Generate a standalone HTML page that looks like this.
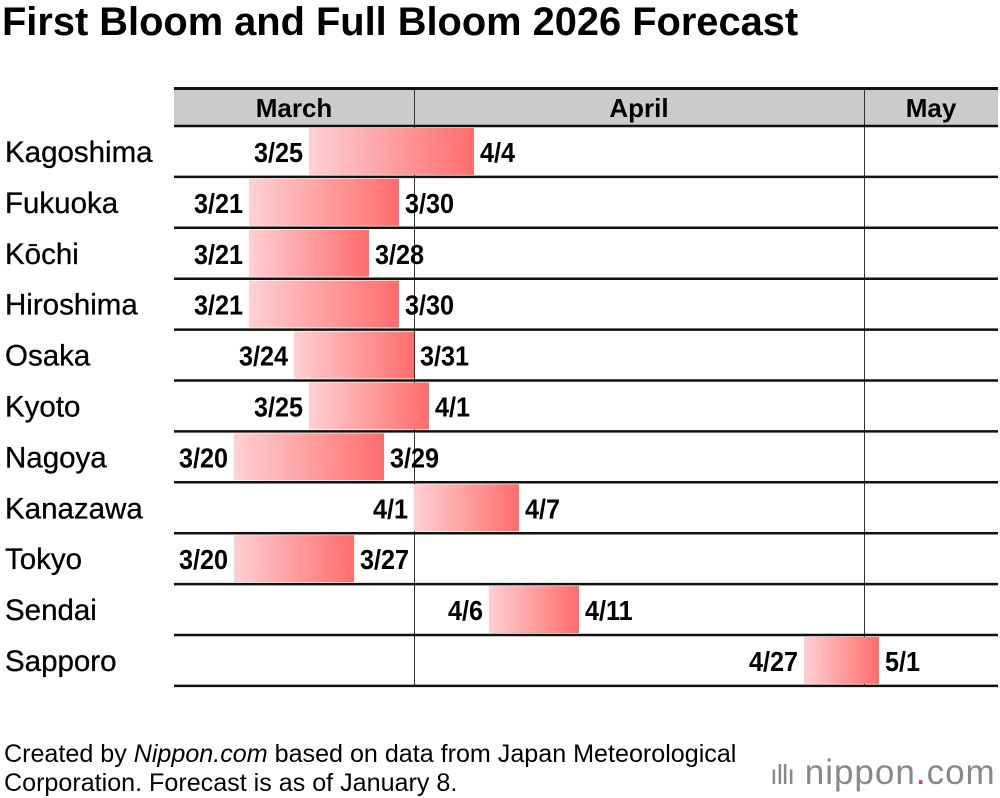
<!DOCTYPE html>
<html><head><meta charset="utf-8"><style>
body{margin:0;width:1000px;height:798px;background:#fff;font-family:"Liberation Sans",sans-serif;overflow:hidden;position:relative}
.t{position:absolute;white-space:nowrap}
</style></head><body>
<div class="t" style="left:2px;top:0px;font-size:39.8px;font-weight:bold;color:#000">First Bloom and Full Bloom 2026 Forecast</div>
<svg id="c" width="1000" height="798" style="position:absolute;left:0;top:0">
<defs><linearGradient id="g" x1="0" x2="1" y1="0" y2="0"><stop offset="0" stop-color="#ffd0d3"/><stop offset="1" stop-color="#ff6c6c"/></linearGradient></defs>
</svg>
<div class="t" style="left:4px;top:740px;font-size:25.1px;line-height:29px;color:#000">Created by <i>Nippon.com</i> based on data from Japan Meteorological<br>Corporation. Forecast is as of January 8.</div>
<div class="t" style="left:770px;top:753px;font-size:35px;color:#888;letter-spacing:1px"><span style="font-size:28px;letter-spacing:-1px">ıllı</span> nippon<span style="color:#e33">.</span>com</div>
<script>
const cities=["Kagoshima","Fukuoka","Kōchi","Hiroshima","Osaka","Kyoto","Nagoya","Kanazawa","Tokyo","Sendai","Sapporo"];
const firstBloom=["3/25","3/21","3/21","3/21","3/24","3/25","3/20","4/1","3/20","4/6","4/27"];
const fullBloom=["4/4","3/30","3/28","3/30","3/31","4/1","3/29","4/7","3/27","4/11","5/1"];
const months=["March","April","May"];
const svg=document.getElementById('c');const NS="http://www.w3.org/2000/svg";
const X0=174,X1=998,APR=414,DAY=15,TOP=126,RH=50.9,SX=0.9;
function dayIdx(s){const [m,d]=s.split('/').map(Number);const off={3:-31,4:0,5:30}[m];return off+d-1;}
function x(s,end){return APR+(dayIdx(s)+(end?1:0))*DAY;}
function el(t,a,txt){const e=document.createElementNS(NS,t);for(const k in a)e.setAttribute(k,a[k]);if(txt!=null)e.textContent=txt;svg.appendChild(e);return e;}
let e=el('rect',{x:X0,y:89,width:X1-X0,height:36,fill:'#cbcbcb'});


const mb=[X0,x("4/1"),x("5/1"),X1];
months.forEach((m,i)=>{let t=el('text',{x:(mb[i]+mb[i+1])/2,y:117,'text-anchor':'middle','font-size':26,'font-weight':'bold'},m);

});
[x("4/1"),x("5/1")].forEach(v=>{let l=el('line',{x1:v+.5,x2:v+.5,y1:89,y2:TOP+RH*cities.length,stroke:'#333','stroke-width':1});

});
cities.forEach((c,i)=>{const y=TOP+i*RH;
 let r=el('rect',{x:x(firstBloom[i]),y:y+2,width:x(fullBloom[i],true)-x(firstBloom[i]),height:RH-4,fill:'url(#g)'});
 
 
 let n=el('text',{x:5,y:y+36,'font-size':29.5,stroke:'#000','stroke-width':0.3},c);
 
 
 let a=el('text',{x:(x(firstBloom[i])-6)/SX,y:y+36,'text-anchor':'end','font-size':28,'font-weight':'bold',transform:'scale('+SX+',1)'},firstBloom[i]);
 
 
 let b=el('text',{x:(x(fullBloom[i],true)+6)/SX,y:y+36,'font-size':28,'font-weight':'bold',transform:'scale('+SX+',1)'},fullBloom[i]);
 
 
});
for(let i=0;i<=cities.length;i++){const y=TOP+i*RH;let l=el('line',{x1:X0,x2:X1,y1:y,y2:y,stroke:'#111','stroke-width':2.5});

}
let tl=el('line',{x1:X0,x2:X1,y1:88.5,y2:88.5,stroke:'#111','stroke-width':3});


</script>
</body></html>
